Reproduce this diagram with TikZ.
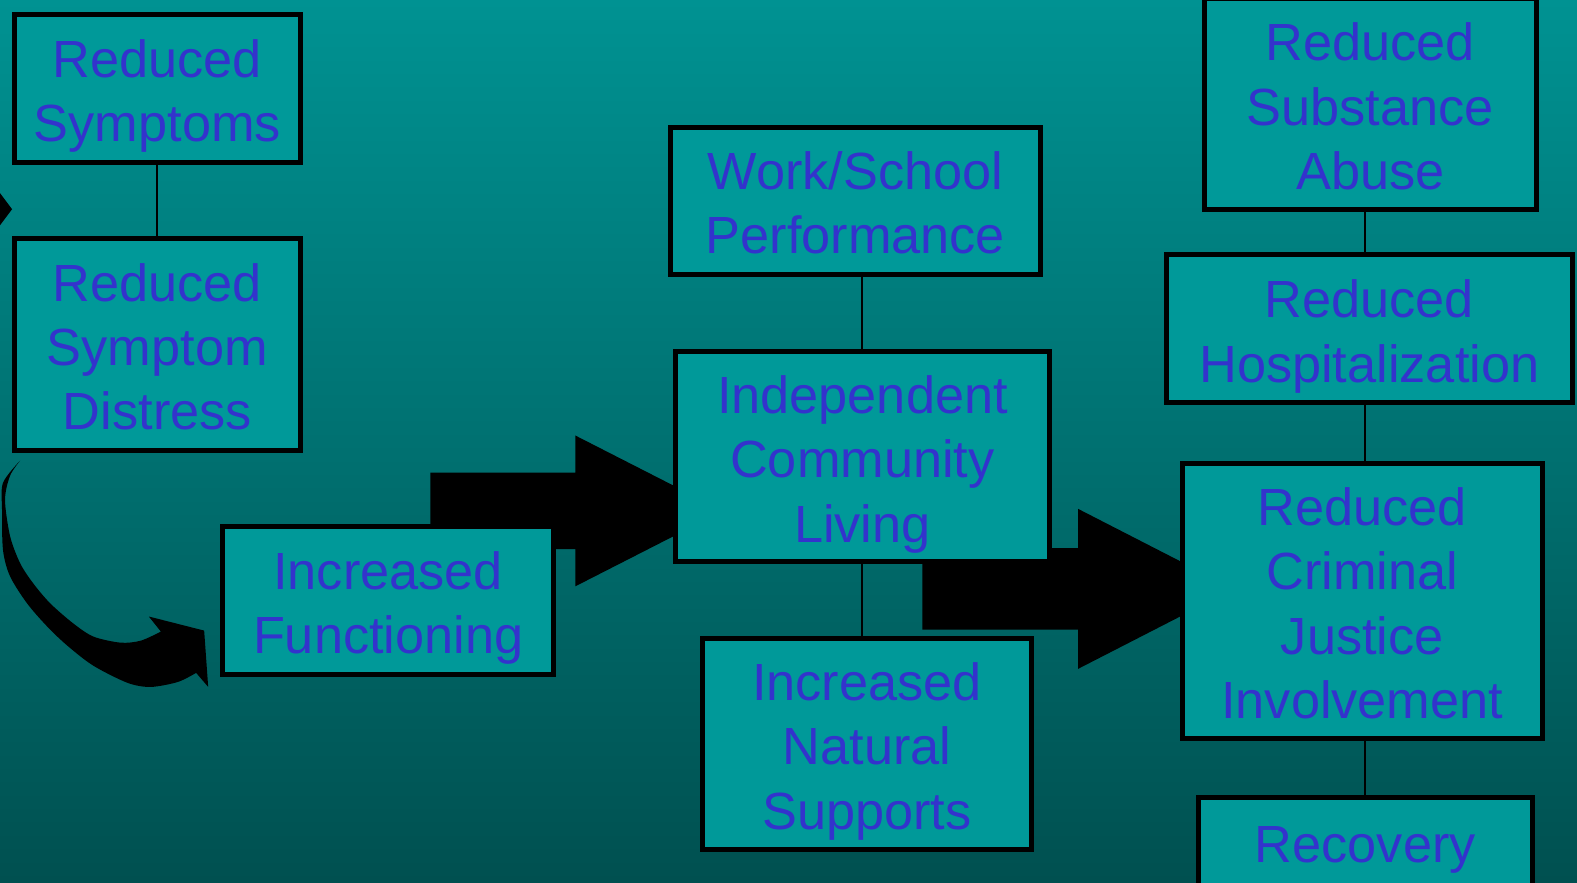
\documentclass[tikz,border=0pt]{standalone}
\usepackage{fontspec}
\setmainfont{Liberation Sans}
\definecolor{boxteal}{RGB}{0,153,153}
\definecolor{textblue}{RGB}{51,51,204}
\definecolor{bgtop}{RGB}{0,146,146}
\definecolor{bgmid}{RGB}{0,106,106}
\definecolor{bgbot}{RGB}{0,80,80}
\pgfdeclarelayer{shade}
\pgfdeclarelayer{arrows}
\pgfsetlayers{shade,arrows,main}
% one line of box text: 53pt above, 11pt below the baseline
\newcommand\ls{\rule[-11pt]{0pt}{64pt}}

\begin{document}
\begin{tikzpicture}[x=1pt,y=-1pt,
  box/.style={draw=black,line width=5pt,fill=boxteal,text=textblue,
    font=\fontsize{52}{64}\selectfont,align=center,inner sep=0pt},
  link/.style={line width=2pt},
  blockarrow/.style={fill=black}]
\useasboundingbox (0,0) rectangle (1568,877);
\begin{pgfonlayer}{shade}
\shade[top color=bgtop,middle color=bgmid,bottom color=bgbot] (0,0) rectangle (1568,877);
\end{pgfonlayer}

% left column
\node[box,minimum width=284pt,minimum height=147pt] (rs) at (156.5,88) {\ls Reduced\\\ls Symptoms};
\node[box,minimum width=284pt,minimum height=210pt] (rsd) at (156.5,342.5) {\ls Reduced\\\ls Symptom\\\ls Distress};
\node[box,minimum width=329pt,minimum height=147pt] (inf) at (386,597) {\ls Increased\\\ls Functioning};

% middle column
\node[box,minimum width=368pt,minimum height=146pt] (wsp) at (850.5,199.5) {\ls Work/School\\\ls Performance};
\node[box,minimum width=372pt,minimum height=209pt] (icl) at (857.5,454) {\ls Independent\\\ls Community\\\ls Living};
\node[box,minimum width=327pt,minimum height=210pt] (ins) at (862,739.5) {\ls Increased\\\ls Natural\\\ls Supports};

% right column
\node[box,minimum width=330pt,minimum height=210pt] (rsa) at (1362.5,103.5) {\ls Reduced\\\ls Substance\\\ls Abuse};
\node[box,minimum width=404pt,minimum height=147pt] (rh) at (1361.5,327) {\ls Reduced\\\ls Hospitalization};
\node[box,minimum width=358pt,minimum height=274pt] (rcj) at (1354.5,597.5) {\ls Reduced\\\ls Criminal\\\ls Justice\\\ls Involvement};
\node[box,minimum width=332pt,minimum height=89pt] (rec) at (1357.5,837) {\ls Recovery};

% thin links
\draw[link] (rs) -- (rsd);
\draw[link] (wsp.south -| icl) -- (icl.north);
\draw[link] (icl.south) -- (icl.south |- ins.north);
\draw[link] (rsa.south -| rec) -- (rh.north -| rec);
\draw[link] (rh.south -| rec) -- (rcj.north -| rec);
\draw[link] (rcj.south -| rec) -- (rec.north);

% block arrows, behind the boxes
\begin{pgfonlayer}{arrows}
\fill[blockarrow] (-6,184) -- (12,208) -- (-6,232) -- cycle;
\fill[blockarrow] (428,470) -- (572,470) -- (572,433) -- (719,508)
  -- (572,583) -- (572,546) -- (428,546) -- cycle;
\fill[blockarrow] (917,545) -- (1072,545) -- (1072,506) -- (1227,585.5)
  -- (1072,665) -- (1072,626) -- (917,626) -- cycle;
% curved arrow from the left column down to Increased Functioning
\fill[blockarrow] plot[smooth] coordinates {(20,458) (3,480) (2,507) (3,547) (10,573)
    (27,600) (47,623) (67,642) (93,662) (127,679) (150,683) (177,678) (195,669)}
  -- (207,683) -- (203,627) -- (148,613) -- (160,628)
  -- plot[smooth] coordinates {(160,628) (140,637) (120,639) (93,633) (73,620)
    (50,600) (33,580) (20,560) (10,533) (5,497) (10,473) (20,458)} -- cycle;
\end{pgfonlayer}
\end{tikzpicture}
\end{document}
